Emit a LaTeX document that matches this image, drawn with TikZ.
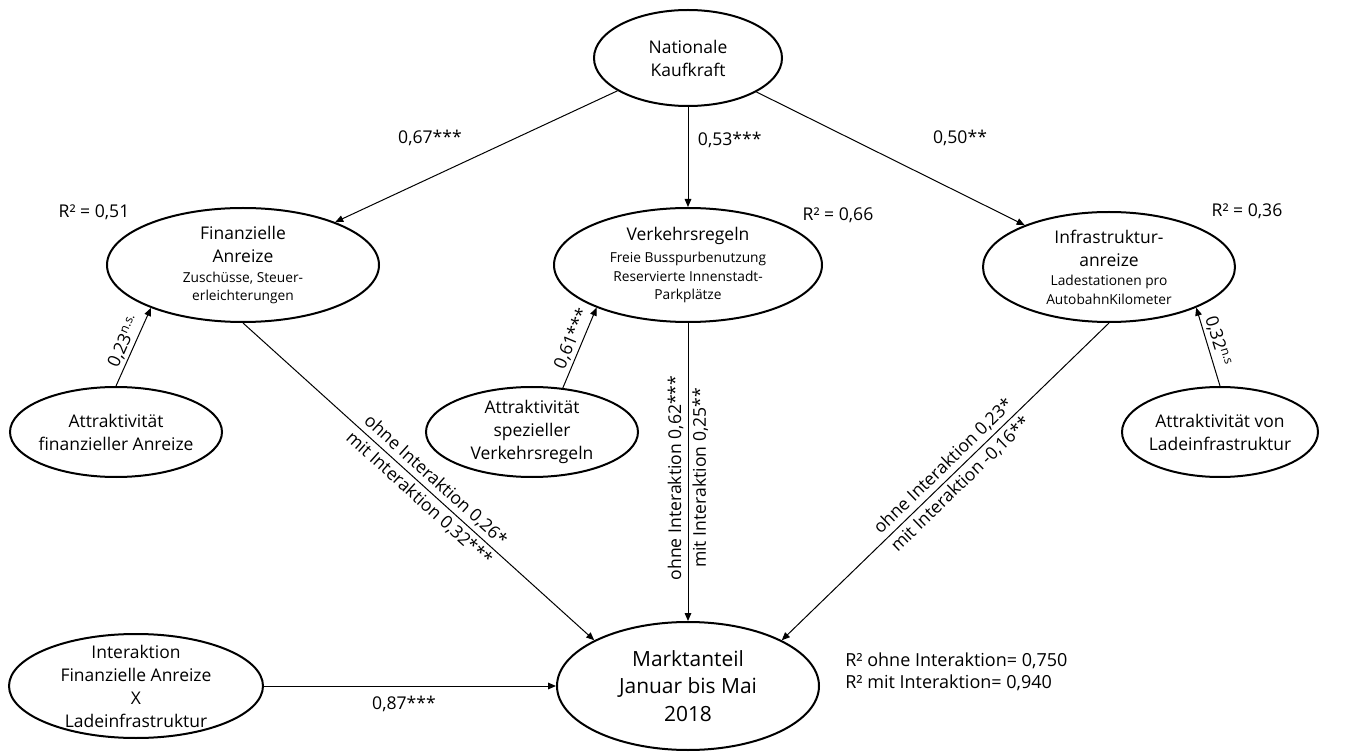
\documentclass[tikz,border=0pt]{standalone}
\usepackage{fontspec}
\setmainfont{Open Sans}
\usetikzlibrary{shapes.geometric,arrows.meta}
\newcommand{\mainfs}{\fontsize{13.1pt}{17.25pt}\selectfont}
\newcommand{\subfs}{\fontsize{10.3pt}{13.9pt}\selectfont}
\newcommand{\bigfs}{\fontsize{15.7pt}{20.6pt}\selectfont}
\newcommand{\labfs}{\fontsize{13.2pt}{16pt}\selectfont}
\newcommand{\rfs}{\fontsize{13.5pt}{16.5pt}\selectfont}
\begin{document}
\begin{tikzpicture}[x=0.75pt,y=-0.75pt,
  ell/.style 2 args={ellipse, draw, line width=1.5pt, minimum width=#1*0.75pt,
    minimum height=#2*0.75pt, inner sep=-15pt, align=center, font=\mainfs},
  arr/.style={-{Triangle[length=6pt,width=5pt]}, line width=0.75pt},
  lab/.style={font=\labfs, inner sep=2pt},
  slab/.style={font=\labfs, inner sep=3pt},
]
\fill[white] (0,0) rectangle (1365,752);
\useasboundingbox (0,0) rectangle (1365,752);

% nodes
\node[ell={188}{96}] (NK) at (688,58) {Nationale\\Kaufkraft};
\node[ell={272}{114}] (FA) at (243,265)
  {Finanzielle\\Anreize\\[-2.5pt]\subfs Zuschüsse, Steuer-\\[-3.4pt]\subfs erleichterungen};
\node[ell={268}{114}] (VR) at (688,265)
  {Verkehrsregeln\\[-0.5pt]\subfs Freie Busspurbenutzung\\[-3.2pt]\subfs Reservierte Innenstadt-\\[-3.2pt]\subfs Parkplätze};
\node[ell={252}{110}] (IA) at (1109,267)
  {Infrastruktur-\\anreize\\[-2.5pt]\subfs Ladestationen pro\\[-3.4pt]\subfs AutobahnKilometer};
\node[ell={212}{90}] (AFA) at (116,432) {Attraktivität\\finanzieller Anreize};
\node[ell={212}{90}] (ASV) at (532,432) {Attraktivität\\spezieller\\Verkehrsregeln};
\node[ell={196}{90}] (AL) at (1220,432) {Attraktivität von\\Ladeinfrastruktur};
\node[ell={254}{104}] (INT) at (136,686) {Interaktion\\Finanzielle Anreize\\X\\Ladeinfrastruktur};
\node[ell={262}{128}, font=\bigfs] (MA) at (688,686) {Marktanteil\\Januar bis Mai\\2018};

% connectors
\draw[arr] (NK) -- (FA);
\draw[arr] (NK) -- (VR);
\draw[arr] (NK) -- (IA);
\draw[arr] (AFA.north) -- (FA.205)
  node[pos=0.52, sloped, above, lab] (l23) {0,23\textsuperscript{n.s.}};
\draw[arr] (ASV.55) -- (VR.205)
  node[pos=0.56, sloped, above, lab] (l61) {0,61***};
\draw[arr] (AL.north) -- (IA.-25)
  node[pos=0.53, sloped, above, lab] (l32) {0,32\textsuperscript{n.s}};
\draw[arr] (FA.south) -- (MA.154)
  node[pos=0.525, sloped, above, slab] (lfa1) {ohne Interaktion 0,26*}
  node[pos=0.525, sloped, below, slab] (lfa2) {mit Interaktion 0,32***};
\draw[arr] (VR) -- (MA)
  node[pos=0.52, rotate=90, anchor=south, slab] (lvr1) {ohne Interaktion 0,62***}
  node[pos=0.52, rotate=90, anchor=north, slab] (lvr2) {mit Interaktion 0,25**};
\draw[arr] (IA.south) -- (MA.26)
  node[pos=0.48, sloped, above, slab] (lia1) {ohne Interaktion 0,23*}
  node[pos=0.48, sloped, below, slab] (lia2) {mit Interaktion -0,16**};
\draw[arr] (INT) -- (MA);

% free labels
\node[lab] (l67) at (430,138) {0,67***};
\node[lab, anchor=west] (l53) at (695,140) {0,53***};
\node[lab] (l50) at (960,138) {0,50**};
\node[lab] (l87) at (404,704) {0,87***};
\node[lab] (r51) at (94,212) {R² = 0,51};
\node[lab] (r66) at (838,215) {R² = 0,66};
\node[lab] (r36) at (1247,211) {R² = 0,36};
\node[font=\rfs, align=left, anchor=west, inner sep=0pt] (rma) at (845,672)
  {R² ohne Interaktion= 0,750\\R² mit Interaktion= 0,940};
\end{tikzpicture}
\end{document}
